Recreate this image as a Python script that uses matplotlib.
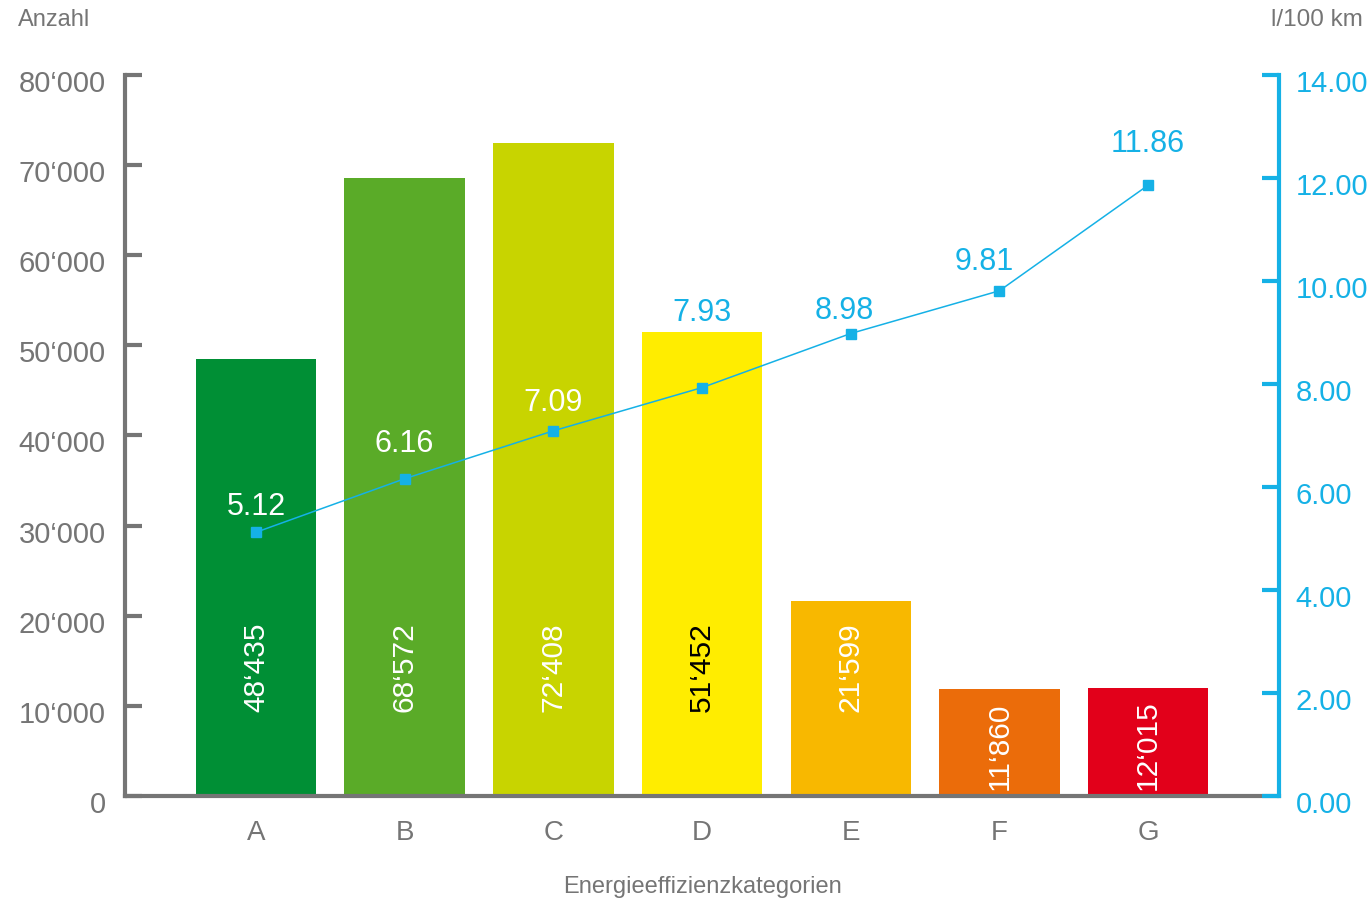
import matplotlib.pyplot as plt
import matplotlib.transforms as mtransforms
from matplotlib.ticker import FuncFormatter

plt.rcParams["font.family"] = ["Liberation Sans", "DejaVu Sans"]

categories = ["A", "B", "C", "D", "E", "F", "G"]
counts = [48435, 68572, 72408, 51452, 21599, 11860, 12015]
consumption = [5.12, 6.16, 7.09, 7.93, 8.98, 9.81, 11.86]
bar_colors = ["#008f35", "#5aab28", "#c8d400", "#ffed00", "#f8b800", "#eb6c0a", "#e2001a"]
count_text_colors = ["white", "white", "white", "black", "white", "white", "white"]
line_text_colors = ["white", "white", "white", "#15b1e6", "#15b1e6", "#15b1e6", "#15b1e6"]
line_label_offsets = [(0, 18), (0, 25), (0, 20), (0, 54), (-5, 16), (-11, 21), (0, 30)]

GRAY = "#757575"
CYAN = "#15b1e6"


def swiss(x, _):
    if x == 0:
        return "0"
    return f"{int(x):,}".replace(",", "\u2018")


fig = plt.figure(figsize=(13.71, 8.99), dpi=100)
ax = fig.add_axes([0.0912, 0.1146, 0.8417, 0.802])
x = range(len(categories))

ax.bar(x, counts, width=0.81, color=bar_colors, zorder=2)
for i, v in enumerate(counts):
    # tall bars: label near the foot, short bars: label inside the bar
    ypos = 14300 if v > 20000 else v / 2 - 400
    ax.text(i, ypos, swiss(v, None), rotation=90, ha="center", va="center",
            color=count_text_colors[i], fontsize=21.5)

ax.set_xlim(-0.88, 6.88)
ax.set_ylim(0, 80000)
ax.set_yticks(range(0, 80001, 10000))
ax.yaxis.set_major_formatter(FuncFormatter(swiss))
ax.set_xticks(list(x))
ax.set_xticklabels(categories)

for s in ["top", "right"]:
    ax.spines[s].set_visible(False)
for s in ["left", "bottom"]:
    ax.spines[s].set_color(GRAY)
    ax.spines[s].set_linewidth(3)
ax.tick_params(axis="y", direction="in", length=12, width=3, color=GRAY,
               labelcolor=GRAY, labelsize=21, pad=14)
ax.tick_params(axis="x", length=0, labelcolor=GRAY, labelsize=20, pad=17)
ax.set_xlabel("Energieeffizienzkategorien", color=GRAY, fontsize=17, labelpad=22)

ax2 = ax.twinx()
ax2.plot(list(x), consumption, color=CYAN, lw=1.1, marker="s", markersize=6.5)
for i, v in enumerate(consumption):
    ax2.annotate(f"{v:.2f}", (i, v), xytext=line_label_offsets[i],
                 textcoords="offset points", ha="center", va="center",
                 color=line_text_colors[i], fontsize=22)
ax2.set_ylim(0, 14)
ax2.set_yticks(range(0, 15, 2))
ax2.yaxis.set_major_formatter(FuncFormatter(lambda v, _: f"{v:.2f}"))
for s in ["top", "left", "bottom"]:
    ax2.spines[s].set_visible(False)
ax2.spines["right"].set_color(CYAN)
ax2.spines["right"].set_linewidth(3)
ax2.tick_params(axis="y", direction="in", length=12, width=3, color=CYAN,
                labelcolor=CYAN, labelsize=21, pad=12)

# tick labels sit a little below their ticks in the original
shift = mtransforms.ScaledTranslation(0, -6 / 100, fig.dpi_scale_trans)
for lab in ax.get_yticklabels() + ax2.get_yticklabels():
    lab.set_transform(lab.get_transform() + shift)

fig.text(0.013, 0.978, "Anzahl", color=GRAY, fontsize=17, ha="left", va="center")
fig.text(0.994, 0.978, "l/100 km", color=GRAY, fontsize=17.5, ha="right", va="center")

plt.savefig("out.png", dpi=100)
